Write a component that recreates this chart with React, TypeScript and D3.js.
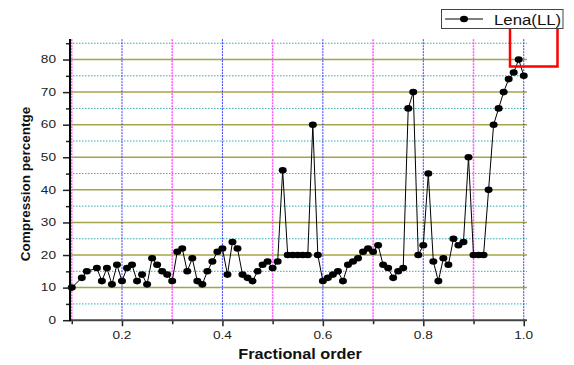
import * as d3 from 'd3';
import React, { useEffect, useRef } from 'react';

// values
const fractionalOrder = [
  0.1, 0.12, 0.13, 0.15, 0.16, 0.17, 0.18, 0.19, 0.2, 0.21, 0.22, 0.23, 0.24,
  0.25, 0.26, 0.27, 0.28, 0.29, 0.3, 0.31, 0.32, 0.33, 0.34, 0.35, 0.36, 0.37,
  0.38, 0.39, 0.4, 0.41, 0.42, 0.43, 0.44, 0.45, 0.46, 0.47, 0.48, 0.49, 0.5,
  0.51, 0.52, 0.53, 0.54, 0.55, 0.56, 0.57, 0.58, 0.59, 0.6, 0.61, 0.62, 0.63,
  0.64, 0.65, 0.66, 0.67, 0.68, 0.69, 0.7, 0.71, 0.72, 0.73, 0.74, 0.75, 0.76,
  0.77, 0.78, 0.79, 0.8, 0.81, 0.82, 0.83, 0.84, 0.85, 0.86, 0.87, 0.88, 0.89,
  0.9, 0.91, 0.92, 0.93, 0.94, 0.95, 0.96, 0.97, 0.98, 0.99, 1.0
];
const compression = [
  10, 13, 15, 16, 12, 16, 11, 17, 12, 16, 17, 12, 14, 11, 19, 17, 15, 14, 12,
  21, 22, 15, 19, 12, 11, 15, 18, 21, 22, 14, 24, 22, 14, 13, 12, 15, 17, 18,
  16, 18, 46, 20, 20, 20, 20, 20, 60, 20, 12, 13, 14, 15, 12, 17, 18, 19, 21,
  22, 21, 23, 17, 16, 13, 15, 16, 65, 70, 20, 23, 45, 18, 12, 19, 17, 25, 23,
  24, 50, 20, 20, 20, 40, 60, 65, 70, 74, 76, 80, 75
];
const xMajorTicks = [0.2, 0.4, 0.6, 0.8, 1.0];
const xMinorTicks = [0.1, 0.3, 0.5, 0.7, 0.9];
const yMajorTicks = [0, 10, 20, 30, 40, 50, 60, 70, 80];
const yMinorTicks = [5, 15, 25, 35, 45, 55, 65, 75, 85];
const seriesName = 'Lena(LL)';

const W = 574;
const H = 365;
const FONT = '"Liberation Sans", Arial, sans-serif';

const App: React.FC = () => {
  const ref = useRef<SVGSVGElement>(null);

  useEffect(() => {
    const svg = d3.select(ref.current);
    svg.selectAll('*').remove();

    const x = d3.scaleLinear().domain([0.0965, 1.0065]).range([70, 527]);
    const y = d3.scaleLinear().domain([0, 86.3]).range([320.2, 39]);
    const [x0, x1] = x.range();
    const [yb, yt] = y.range();

    // grid
    const grid = svg.append('g');
    grid
      .selectAll('.hmin')
      .data(yMinorTicks)
      .join('line')
      .attr('x1', x0)
      .attr('x2', x1)
      .attr('y1', (d) => y(d))
      .attr('y2', (d) => y(d))
      .attr('stroke', '#34abab')
      .attr('stroke-width', 1)
      .attr('stroke-dasharray', '1.5,1.5');
    grid
      .selectAll('.hmaj')
      .data(yMajorTicks.filter((d) => d > 0))
      .join('line')
      .attr('x1', x0)
      .attr('x2', x1)
      .attr('y1', (d) => y(d))
      .attr('y2', (d) => y(d))
      .attr('stroke', '#a4a44a')
      .attr('stroke-width', 1.5);
    grid
      .selectAll('.vmin')
      .data(xMinorTicks)
      .join('line')
      .attr('x1', (d) => x(d))
      .attr('x2', (d) => x(d))
      .attr('y1', yb)
      .attr('y2', yt)
      .attr('stroke', '#ff55ff')
      .attr('stroke-width', 1.5)
      .attr('stroke-dasharray', '2,1');
    grid
      .selectAll('.vmaj')
      .data(xMajorTicks)
      .join('line')
      .attr('x1', (d) => x(d))
      .attr('x2', (d) => x(d))
      .attr('y1', yb)
      .attr('y2', yt)
      .attr('stroke', '#3a3aff')
      .attr('stroke-width', 1)
      .attr('stroke-dasharray', '2,1');

    // series
    const pts = fractionalOrder.map((f, i) => [f, compression[i]] as [number, number]);
    const line = d3
      .line<[number, number]>()
      .x((d) => x(d[0]))
      .y((d) => y(d[1]));
    svg
      .append('path')
      .attr('d', line(pts))
      .attr('fill', 'none')
      .attr('stroke', '#000')
      .attr('stroke-width', 1);
    svg
      .append('g')
      .selectAll('ellipse')
      .data(pts)
      .join('ellipse')
      .attr('cx', (d) => x(d[0]))
      .attr('cy', (d) => y(d[1]))
      .attr('rx', 4)
      .attr('ry', 3.3)
      .attr('fill', '#000');

    // axes
    const axes = svg.append('g');
    axes
      .append('g')
      .attr('transform', `translate(${x0},0)`)
      .call(d3.axisLeft(y).tickValues(yMajorTicks).tickSize(7).tickSizeOuter(0).tickFormat(() => ''))
      .call((g) => g.select('.domain').remove());
    axes
      .append('g')
      .attr('transform', `translate(${x0},0)`)
      .call(d3.axisLeft(y).tickValues(yMinorTicks).tickSize(4).tickSizeOuter(0).tickFormat(() => ''))
      .call((g) => g.select('.domain').remove());
    axes
      .append('g')
      .attr('transform', `translate(0,${yb})`)
      .call(d3.axisBottom(x).tickValues(xMajorTicks).tickSize(6).tickSizeOuter(0).tickFormat(() => ''))
      .call((g) => g.select('.domain').remove());
    axes
      .append('g')
      .attr('transform', `translate(0,${yb})`)
      .call(d3.axisBottom(x).tickValues(xMinorTicks).tickSize(4).tickSizeOuter(0).tickFormat(() => ''))
      .call((g) => g.select('.domain').remove());
    axes.selectAll('.tick line').attr('stroke', '#222').attr('stroke-width', 1.5);

    axes
      .append('line')
      .attr('x1', x0)
      .attr('x2', x1)
      .attr('y1', yb)
      .attr('y2', yb)
      .attr('stroke', '#444')
      .attr('stroke-width', 2);
    axes
      .append('line')
      .attr('x1', x0)
      .attr('x2', x0)
      .attr('y1', yb + 1)
      .attr('y2', yt)
      .attr('stroke', '#000')
      .attr('stroke-width', 2);

    // tick labels (the source renders them stretched horizontally)
    axes
      .selectAll('.ylab')
      .data(yMajorTicks)
      .join('text')
      .attr('transform', (d) => `translate(56,${y(d) + 3.7}) scale(1.3,1)`)
      .attr('text-anchor', 'end')
      .attr('font-family', FONT)
      .attr('font-size', 10.5)
      .attr('fill', '#222')
      .text((d) => d);
    axes
      .selectAll('.xlab')
      .data(xMajorTicks)
      .join('text')
      .attr('transform', (d) => `translate(${x(d)},339) scale(1.3,1)`)
      .attr('text-anchor', 'middle')
      .attr('font-family', FONT)
      .attr('font-size', 10.5)
      .attr('fill', '#222')
      .text((d) => d.toFixed(1));

    // titles
    svg
      .append('text')
      .attr('transform', `translate(300,359) scale(1.12,1)`)
      .attr('text-anchor', 'middle')
      .attr('font-family', FONT)
      .attr('font-weight', 'bold')
      .attr('font-size', 14.5)
      .attr('fill', '#111')
      .text('Fractional order');
    svg
      .append('text')
      .attr('transform', `translate(30,184) rotate(-90)`)
      .attr('text-anchor', 'middle')
      .attr('font-family', FONT)
      .attr('font-weight', 'bold')
      .attr('font-size', 13.5)
      .attr('fill', '#111')
      .text('Compression percentge');

    // legend
    const lg = svg.append('g');
    lg.append('rect')
      .attr('x', 441.5)
      .attr('y', 9.5)
      .attr('width', 121.5)
      .attr('height', 19)
      .attr('fill', '#fff')
      .attr('stroke', '#444')
      .attr('stroke-width', 1);
    lg.append('line')
      .attr('x1', 445)
      .attr('x2', 483)
      .attr('y1', 19)
      .attr('y2', 19)
      .attr('stroke', '#000')
      .attr('stroke-width', 1);
    lg.append('ellipse')
      .attr('cx', 464)
      .attr('cy', 19)
      .attr('rx', 4)
      .attr('ry', 3.3)
      .attr('fill', '#000');
    lg.append('text')
      .attr('transform', 'translate(494,24.5) scale(1.12,1)')
      .attr('font-family', FONT)
      .attr('font-size', 15)
      .attr('fill', '#111')
      .text(seriesName);

    // red marker box under the legend
    svg
      .append('path')
      .attr('d', 'M510,29 V66.5 H557.5 V29')
      .attr('fill', 'none')
      .attr('stroke', '#ff0000')
      .attr('stroke-width', 2.5);
  }, []);

  return (
    <svg
      ref={ref}
      width={W}
      height={H}
      style={{ position: 'absolute', left: 0, top: 0, background: '#fff' }}
    ></svg>
  );
};

export default App;
